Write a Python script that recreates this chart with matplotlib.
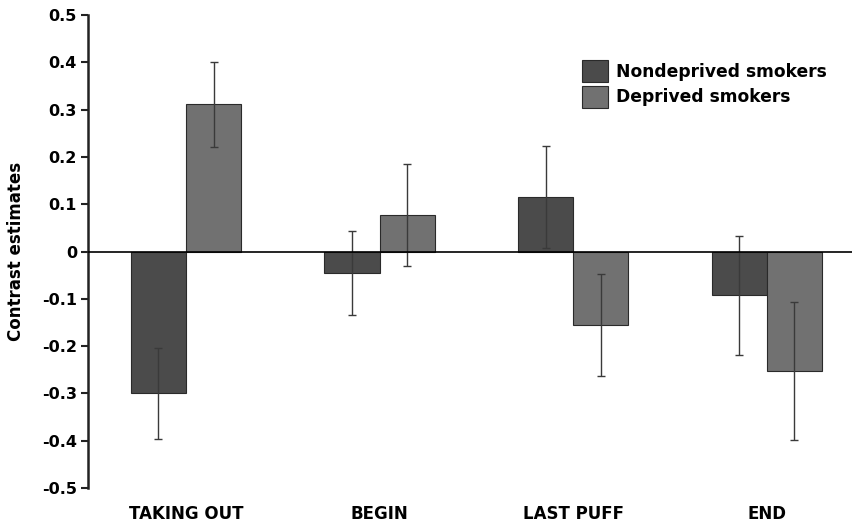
import numpy as np
import matplotlib
matplotlib.use("Agg")
import matplotlib.pyplot as plt

categories = ["TAKING OUT", "BEGIN", "LAST PUFF", "END"]
nondeprived = [-0.300, -0.046, 0.116, -0.093]
nondeprived_err = [0.096, 0.089, 0.108, 0.125]
deprived = [0.311, 0.078, -0.155, -0.252]
deprived_err = [0.090, 0.108, 0.108, 0.146]

plt.rcParams['font.family'] = ['DejaVu Sans']
plt.rcParams['font.weight'] = 'bold'

fig = plt.figure(figsize=(8.52, 5.21), dpi=100)
ax = fig.add_axes([88/852, 1-488/521, 1-88/852, (488-15)/521])

x = np.arange(len(categories))
w = 0.285
dark = '#4b4b4b'
light = '#717171'

ax.bar(x - w/2, nondeprived, w, color=dark, edgecolor='#2a2a2a', linewidth=0.8,
       label='Nondeprived smokers', zorder=2)
ax.bar(x + w/2, deprived, w, color=light, edgecolor='#2a2a2a', linewidth=0.8,
       label='Deprived smokers', zorder=2)
ax.errorbar(x - w/2, nondeprived, yerr=nondeprived_err, fmt='none', ecolor='#3a3a3a',
            elinewidth=1, capsize=3, capthick=1, zorder=3)
ax.errorbar(x + w/2, deprived, yerr=deprived_err, fmt='none', ecolor='#3a3a3a',
            elinewidth=1, capsize=3, capthick=1, zorder=3)

ax.axhline(0, color='black', linewidth=1.2, zorder=4)

ax.set_xlim(-0.506, 3.44)
ax.set_ylim(-0.5, 0.5)
ax.set_yticks(np.arange(-0.5, 0.51, 0.1))
ax.set_yticklabels(['-0.5', '-0.4', '-0.3', '-0.2', '-0.1', '0',
                    '0.1', '0.2', '0.3', '0.4', '0.5'])
ax.set_xticks(x)
ax.set_xticklabels(categories, fontsize=12, fontweight='bold')
ax.tick_params(axis='x', length=0, pad=12)
ax.tick_params(axis='y', direction='out', length=5, width=1.5, pad=3,
               labelsize=11.5, color='#222222')
for s in ['top', 'right', 'bottom']:
    ax.spines[s].set_visible(False)
ax.spines['left'].set_linewidth(1.8)
ax.spines['left'].set_color('#222222')

ax.set_ylabel('Contrast estimates', fontsize=12, fontweight='bold')
ax.yaxis.set_label_coords(-0.0825, 0.5)

leg = fig.legend(loc='upper left', bbox_to_anchor=(567/852, 1-45/521), frameon=False,
                 fontsize=12.3, handlelength=1.5, handleheight=1.6, handletextpad=0.45,
                 labelspacing=0.2)

fig.savefig('out.png', dpi=100)
